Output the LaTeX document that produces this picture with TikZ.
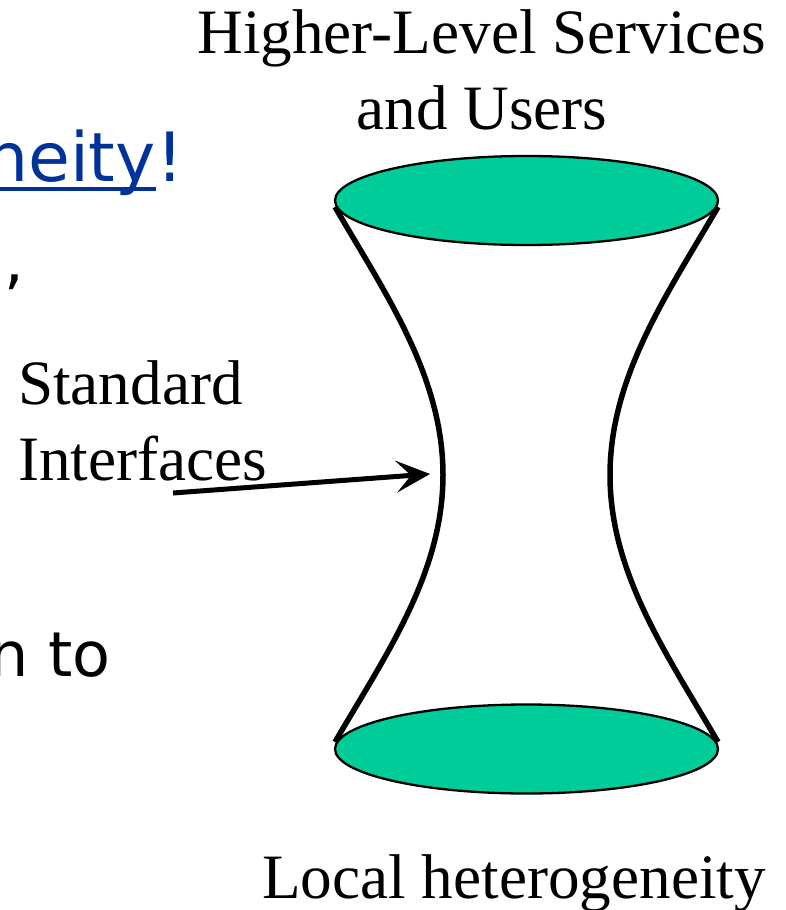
\documentclass[tikz,border=0pt]{standalone}
\usepackage{fontspec}
\setmainfont{Liberation Serif}
\newfontfamily\slidefont{DejaVu Sans}
\usepackage{tikz}
\usetikzlibrary{arrows.meta,shapes.geometric}
\definecolor{discGreen}{RGB}{0,204,153}
\definecolor{linkBlue}{RGB}{0,51,153}
\tikzset{
  disc/.style={ellipse, draw=black, line width=2.3pt, fill=discGreen,
    minimum width=383pt, minimum height=89pt, inner sep=0pt},
  side/.style={line width=5.5pt},
  pointer/.style={line width=5pt, -{Stealth[length=34pt,width=32pt,inset=15pt]}},
  serifText/.style={inner sep=0pt, font=\fontsize{63.2}{76}\selectfont},
  slideText/.style={inner sep=0pt, font=\slidefont\fontsize{#1}{#1}\selectfont},
}

\begin{document}
\begin{tikzpicture}[x=1pt,y=-1pt]
    \useasboundingbox (0,0) rectangle (785,910);
    \clip (0,0) rectangle (785,910);

    % Slide text cut off at the left
    \node[slideText=68, text=linkBlue, anchor=base east] (neity) at (156,181) {neity};
    \node[slideText=68, text=linkBlue, anchor=base west] (bang) at (neity.base east) {!};
    \draw[linkBlue, line width=3.5pt] ([yshift=-8pt]neity.base west) -- ([yshift=-8pt]neity.base east);
    \node[slideText=62, anchor=base west] (comma) at (4,282) {,};
    \node[slideText=62, anchor=base east] (nto) at (110.5,676) {n to};

    % Discs
    \node[disc] (top) at (526.5,200.5) {};
    \node[disc] (bottom) at (526.5,749) {};

    % Sides of the hourglass
    \coordinate (topL) at (335,207);
    \coordinate (topR) at (718,207);
    \coordinate (waistL) at (443,475);
    \coordinate (waistR) at (610,475);
    \coordinate (botL) at (335,742);
    \coordinate (botR) at (718,742);
    \draw[side] (topL) .. controls (385,293) and (443,376) .. (waistL)
                       .. controls (443,574) and (385,656) .. (botL);
    \draw[side] (topR) .. controls (668,293) and (610,376) .. (waistR)
                       .. controls (610,574) and (668,656) .. (botR);

    % Labels
    \node[serifText, align=center, anchor=north] (services) at (482,9.8) {Higher-Level Services\\and Users};
    \node[serifText, align=left, anchor=north west] (interfaces) at (18,360) {Standard\\Interfaces};
    \node[serifText, anchor=base] (local) at (514,898) {Local heterogeneity};

    % Arrow to the waist
    \coordinate (tail) at (173,493);
    \coordinate (tip) at (430,474);
    \draw[pointer] (tail) -- (tip);
\end{tikzpicture}
\end{document}
